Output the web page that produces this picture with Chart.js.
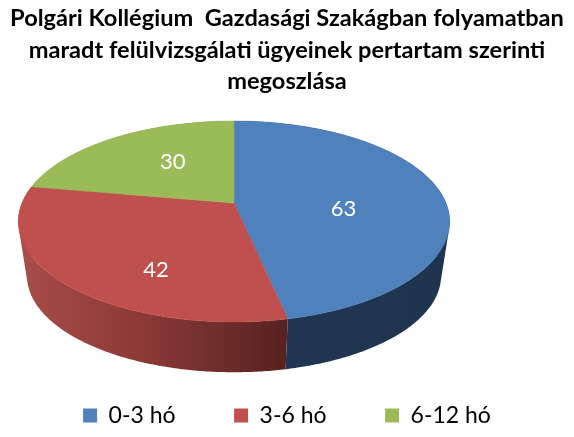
<!DOCTYPE html>
<html>
<head>
<meta charset="utf-8">
<title>Pertartam</title>
<script src="https://cdn.jsdelivr.net/npm/chart.js@4"></script>
<style>
    html, body { margin: 0; padding: 0; background: #fff; }
    canvas { display: block; }
</style>
</head>
<body>
<canvas id="pieChart" width="574" height="437"></canvas>
<script>
var categories = ['0-3 hó', '3-6 hó', '6-12 hó'];
var values = [63, 42, 30];
var titleLines = [
    'Polgári Kollégium  Gazdasági Szakágban folyamatban',
    'maradt felülvizsgálati ügyeinek pertartam szerinti',
    'megoszlása'
];
var colors = ['#4F81BD', '#C0504D', '#9BBB59'];

// perspective of the flattened disc
var view = { cx: 234, cy: 203, a: 212, b: 97.1, k: 0.184, depth: 55, shrink: 0.96 };
var labelShift = [[-1, 11], [6, 27], [6, -4]];

// wall shading, left to right
var wallStops = [
    [[0, '#203654'], [1, '#1F344E']],
    [[0, '#A84D4A'], [0.45, '#8C3A37'], [1, '#562120']],
    [[0, '#76903F'], [1, '#5C7131']]
];

function project(t, r, low) {
    var u = Math.sin(t) * r;
    var v = -Math.cos(t) * r;
    var d = 1 - view.k * v;
    var s = low ? view.shrink : 1;
    return {
        x: view.cx + s * view.a * u / d,
        y: view.cy + (low ? view.depth : 0) + s * view.b * v / d
    };
}

function edge(t0, t1, low) {
    var pts = [];
    var n = Math.max(2, Math.ceil((t1 - t0) / 0.01));
    for (var i = 0; i <= n; i++) {
        pts.push(project(t0 + (t1 - t0) * i / n, 1, low));
    }
    return pts;
}

function addPoly(ctx, pts) {
    pts.forEach(function (p, i) {
        if (i === 0) ctx.moveTo(p.x, p.y);
        else ctx.lineTo(p.x, p.y);
    });
    ctx.closePath();
}

// same winding for every quad so one fill covers them all without seams
function polyArea(pts) {
    var sum = 0;
    pts.forEach(function (p, i) {
        var q = pts[(i + 1) % pts.length];
        sum += p.x * q.y - q.x * p.y;
    });
    return sum;
}

var pie3d = {
    id: 'pie3d',
    beforeDatasetsDraw: function (chart) {
        var ctx = chart.ctx;
        var arcs = chart.getDatasetMeta(0).data;
        ctx.save();

        arcs.forEach(function (arc, i) {
            var t0 = arc.startAngle + Math.PI / 2;
            var t1 = arc.endAngle + Math.PI / 2;
            var top = edge(t0, t1, false);
            var low = edge(t0, t1, true);
            var xs = top.concat(low).map(function (p) { return p.x; });
            var grad = ctx.createLinearGradient(Math.min.apply(null, xs), 0, Math.max.apply(null, xs), 0);
            wallStops[i].forEach(function (s) { grad.addColorStop(s[0], s[1]); });
            ctx.beginPath();
            for (var j = 0; j < top.length - 1; j++) {
                var quad = [top[j], top[j + 1], low[j + 1], low[j]];
                addPoly(ctx, polyArea(quad) < 0 ? quad.reverse() : quad);
            }
            ctx.fillStyle = grad;
            ctx.fill('nonzero');
        });

        arcs.forEach(function (arc, i) {
            var t0 = arc.startAngle + Math.PI / 2;
            var t1 = arc.endAngle + Math.PI / 2;
            ctx.beginPath();
            addPoly(ctx, [{ x: view.cx, y: view.cy }].concat(edge(t0, t1, false)));
            ctx.fillStyle = colors[i];
            ctx.strokeStyle = colors[i];
            ctx.lineWidth = 0.5;
            ctx.fill();
            ctx.stroke();
        });

        ctx.fillStyle = '#fff';
        ctx.font = '22px Lato';
        ctx.textAlign = 'center';
        ctx.textBaseline = 'middle';
        arcs.forEach(function (arc, i) {
            var mid = (arc.startAngle + arc.endAngle) / 2 + Math.PI / 2;
            var p = project(mid, 0.53, false);
            ctx.fillText(String(values[i]), p.x + labelShift[i][0], p.y + labelShift[i][1]);
        });

        ctx.restore();
        return false;
    }
};

new Chart(document.getElementById('pieChart').getContext('2d'), {
    type: 'pie',
    data: {
        labels: categories,
        datasets: [{ data: values, backgroundColor: colors, borderWidth: 0 }]
    },
    options: {
        responsive: false,
        animation: false,
        layout: { padding: { bottom: 0 } },
        plugins: {
            tooltip: { enabled: false },
            title: {
                display: true,
                text: titleLines,
                color: '#000',
                font: { family: 'Lato', size: 23.6, weight: 'bold', lineHeight: 1.335 },
                padding: { top: 3, bottom: 4 }
            },
            legend: {
                position: 'bottom',
                labels: {
                    color: '#000',
                    font: { family: 'Lato', size: 23 },
                    boxWidth: 14,
                    boxHeight: 14,
                    padding: 58.5
                }
            }
        }
    },
    plugins: [pie3d]
});
</script>
</body>
</html>
